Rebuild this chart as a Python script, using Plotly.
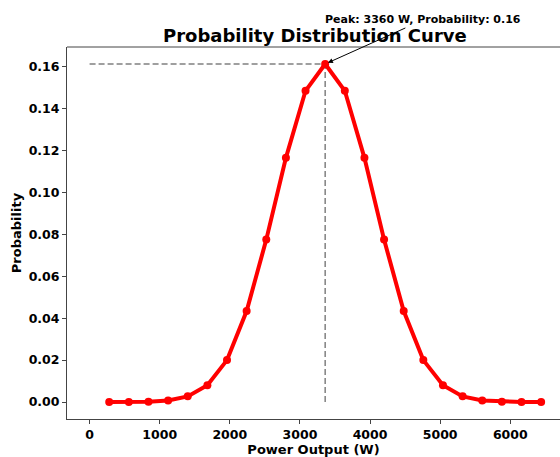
import plotly.graph_objects as go

power_w = [280, 560, 840, 1120, 1400, 1680, 1960, 2240, 2520, 2800, 3080, 3360,
           3640, 3920, 4200, 4480, 4760, 5040, 5320, 5600, 5880, 6160, 6440]
probability = [0.00001, 0.00004, 0.00019, 0.00077, 0.0027, 0.0080, 0.0200, 0.0434,
               0.0775, 0.1165, 0.1485, 0.1613, 0.1485, 0.1165, 0.0775, 0.0434,
               0.0200, 0.0080, 0.0027, 0.00077, 0.00019, 0.00004, 0.00001]
peak_x = 3360
peak_y = 0.1613
title_text = "Probability Distribution Curve"
peak_label = "Peak: 3360 W, Probability: 0.16"
x_ticks = [0, 1000, 2000, 3000, 4000, 5000, 6000]
y_ticks = [0.00, 0.02, 0.04, 0.06, 0.08, 0.10, 0.12, 0.14, 0.16]

FONT = "DejaVu Sans"
fig = go.Figure()

# reference dashed lines
fig.add_trace(go.Scatter(x=[0, peak_x], y=[peak_y, peak_y], mode="lines",
                         line=dict(color="gray", width=1.5, dash="6px,3px"),
                         hoverinfo="skip", showlegend=False))
fig.add_trace(go.Scatter(x=[peak_x, peak_x], y=[0, peak_y], mode="lines",
                         line=dict(color="gray", width=1.5, dash="6px,3px"),
                         hoverinfo="skip", showlegend=False))

fig.add_trace(go.Scatter(x=power_w, y=probability, mode="lines+markers",
                         line=dict(color="red", width=4),
                         marker=dict(color="red", size=8),
                         showlegend=False))

fig.add_annotation(x=peak_x, y=peak_y, xref="x", yref="y", text="<b>" + peak_label + "</b>",
                   showarrow=True, arrowhead=2, arrowsize=1, arrowwidth=1, arrowcolor="black",
                   ax=98, ay=-44, font=dict(family=FONT, size=11, color="black"),
                   standoff=3)

fig.add_annotation(x=0.503, y=1.032, xref="paper", yref="paper", text="<b>" + title_text + "</b>",
                   showarrow=False, font=dict(family=FONT, size=18, color="black"),
                   xanchor="center", yanchor="middle")

fig.update_layout(
    width=560, height=457,
    margin=dict(l=67, r=0, t=47, b=38),
    plot_bgcolor="white", paper_bgcolor="white",
    font=dict(family=FONT, size=12.5, color="black"),
    xaxis=dict(range=[-322, 6709], tickvals=x_ticks, ticktext=["<b>%d</b>" % v for v in x_ticks],
               showgrid=False, zeroline=False, showline=True, linecolor="#444", linewidth=1,
               mirror=False, ticks="outside", ticklen=4, tickcolor="#444",
               title=dict(text="<b>Power Output (W)</b>", font=dict(family=FONT, size=13), standoff=2)),
    yaxis=dict(range=[-0.0081, 0.1694], tickvals=y_ticks, ticktext=["<b>%.2f</b>" % v for v in y_ticks],
               showgrid=False, zeroline=False, showline=True, linecolor="#444", linewidth=1,
               ticks="outside", ticklen=4, tickcolor="#444",
               title=dict(text="<b>Probability</b>", font=dict(family=FONT, size=13), standoff=4)),
)
# top spine
fig.add_shape(type="line", xref="paper", yref="paper", x0=0, x1=1, y0=1, y1=1,
              line=dict(color="#444", width=1))

fig.write_html("out.html")
